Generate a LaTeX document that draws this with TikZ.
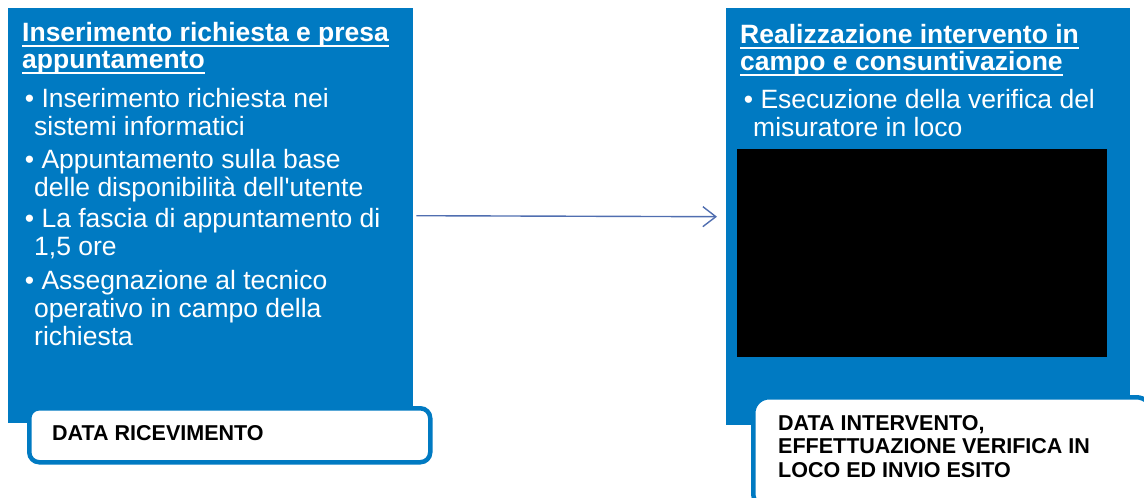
\documentclass[tikz,border=0pt]{standalone}
\usepackage{fontspec}
\setmainfont{Liberation Sans}
\usetikzlibrary{arrows.meta}
\definecolor{boxblue}{RGB}{0,122,194}
\definecolor{arrowblue}{RGB}{80,110,176}
\newcommand\myul[1]{\setbox0\hbox{#1}\rlap{\rule[-6pt]{\wd0}{1.8pt}}\box0}
\begin{document}
\begin{tikzpicture}[x=1pt,y=-1pt,
  bluebox/.style={fill=boxblue, inner sep=0, anchor=north west},
  datebox/.style={fill=white, draw=boxblue, line width=4.5pt, inner sep=0, anchor=north west},
  titletext/.style={anchor=base west, inner sep=0, align=left, text=white, font=\fontsize{26.5}{27}\selectfont\bfseries},
  bullettext/.style={anchor=base west, inner sep=0, align=left, text=white, font=\fontsize{26.5}{28}\selectfont},
  datetext/.style={anchor=base west, inner sep=0, align=left, text=black, font=\fontsize{21.5}{23.5}\selectfont\bfseries},
  flow/.style={draw=arrowblue, line width=1.4pt, -{Straight Barb[length=13pt,width=20pt]}}]
\useasboundingbox (0,0) rectangle (1144,498);
% left column (base anchor = baseline of the last line)
\node[bluebox, minimum width=405, minimum height=415] (lbox) at (8,8) {};
\node[titletext] (ltitle) at (22,68) {\myul{Inserimento richiesta e presa}\\\myul{appuntamento}};
\node[bullettext] (lb1) at (34,135) {\llap{•}\ Inserimento richiesta nei\\sistemi informatici};
\node[bullettext] (lb2) at (34,196) {\llap{•}\ Appuntamento sulla base\\delle disponibilità dell\textquotesingle utente};
\node[bullettext] (lb3) at (34,255) {\llap{•}\ La fascia di appuntamento di\\1,5 ore};
\node[bullettext] (lb4) at (34,345) {\llap{•}\ Assegnazione al tecnico\\operativo in campo della\\richiesta};
\node[datebox, minimum width=401, minimum height=54, rounded corners=10pt] (ldate) at (27,406) {};
\node[datetext] (ldatetext) at (52,440) {DATA RICEVIMENTO};
% right column
\node[bluebox, minimum width=404, minimum height=417] (rbox) at (726,8) {};
\node[titletext] (rtitle) at (740,70) {\myul{Realizzazione intervento in}\\\myul{campo e consuntivazione}};
\node[bullettext] (rb1) at (753,136) {\llap{•}\ Esecuzione della verifica del\\misuratore in loco};
\node[fill=black, inner sep=0, anchor=north west, minimum width=370, minimum height=208] (blackout) at (737,149) {};
\node[datebox, minimum width=399, minimum height=112, rounded corners=16pt] (rdate) at (751,395) {};
\node[datetext] (rdatetext) at (778,477) {DATA INTERVENTO,\\EFFETTUAZIONE VERIFICA IN\\LOCO ED INVIO ESITO};
% connector
\draw[flow] ([xshift=3pt]lbox.east) -- ([xshift=-9pt]rbox.west);
\end{tikzpicture}
\end{document}
